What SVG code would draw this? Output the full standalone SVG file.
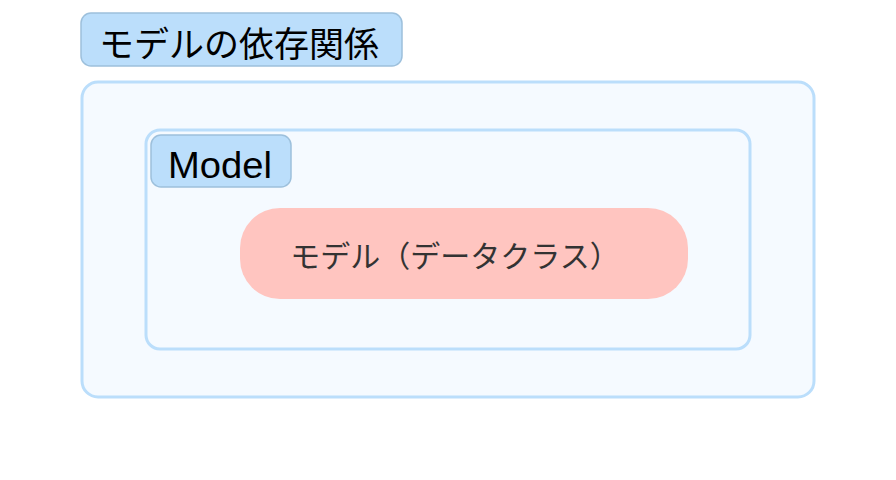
<svg xmlns="http://www.w3.org/2000/svg" width="896" height="480" viewBox="0 0 896 480">
<style>
.box{fill:#F5FAFF;stroke:#BBDEFB;stroke-width:3}
.lbl{fill:#BBDEFB;stroke:#9DC0DC;stroke-width:1.5}
.t{font-family:"Noto Sans CJK JP","Noto Sans",sans-serif}
</style>
<rect width="896" height="480" fill="#FFFFFF"/>
<g id="outer">
<rect class="box" x="82" y="82" width="732" height="315" rx="16"/>
<rect class="lbl" x="81" y="13" width="321" height="53" rx="10"/>
<text class="t" x="99" y="57" font-size="35" fill="#000">モデルの依存関係</text>
</g>
<g id="model">
<rect class="box" x="146" y="130" width="604" height="219" rx="14"/>
<rect class="lbl" x="151" y="135" width="140" height="52" rx="10"/>
<text x="168" y="178" font-family="'Liberation Sans','Noto Sans',sans-serif" font-size="36" textLength="104" lengthAdjust="spacingAndGlyphs" fill="#000">Model</text>
</g>
<g id="dataclass">
<rect x="240" y="208" width="448" height="91" rx="40" fill="#FFC5C0"/>
<text class="t" x="455" y="267" font-size="30" fill="#333" text-anchor="middle">モデル（データクラス）</text>
</g>
<g id="connectors"></g>
</svg>
